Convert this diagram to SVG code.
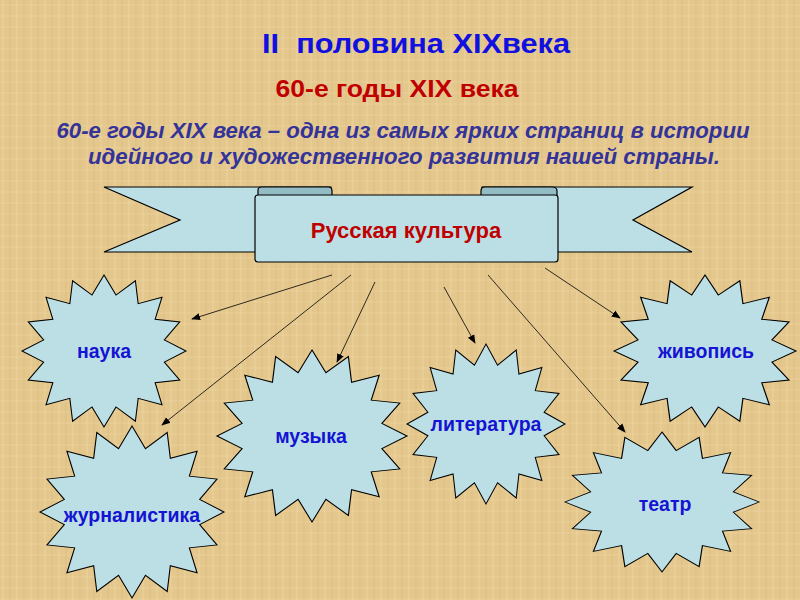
<svg xmlns="http://www.w3.org/2000/svg" width="800" height="600" viewBox="0 0 800 600">
<style>
.star{fill:#BCDFE5;stroke:#000;stroke-width:1}
.lbl{font-family:"Liberation Sans",Arial,sans-serif;font-weight:bold;font-size:19.5px;fill:#1414D2;text-anchor:middle}
.ribbon{fill:#BCDFE5;stroke:#000;stroke-width:1.2}
.fold{fill:#93BCC4;stroke:#000;stroke-width:1.2}
.conn line{stroke:#000;stroke-width:0.8;marker-end:url(#ah)}
.it{font-family:"Liberation Sans",Arial,sans-serif;font-size:22px;font-weight:bold;font-style:italic;fill:#333399;text-anchor:middle}
</style>
<defs>
<marker id="ah" viewBox="0 0 10 10" refX="9" refY="5" markerWidth="9" markerHeight="9" markerUnits="userSpaceOnUse" orient="auto">
<path d="M0,1 L10,5 L0,9 Z" fill="#000"/>
</marker>
<polygon id="s16" points="0,-100 14.63,-73.56 38.27,-92.39 41.67,-62.36 70.71,-70.71 62.36,-41.67 92.39,-38.27 73.56,-14.63 100,0 73.56,14.63 92.39,38.27 62.36,41.67 70.71,70.71 41.67,62.36 38.27,92.39 14.63,73.56 0,100 -14.63,73.56 -38.27,92.39 -41.67,62.36 -70.71,70.71 -62.36,41.67 -92.39,38.27 -73.56,14.63 -100,0 -73.56,-14.63 -92.39,-38.27 -62.36,-41.67 -70.71,-70.71 -41.67,-62.36 -38.27,-92.39 -14.63,-73.56"/>
<pattern id="tex" width="14" height="11" patternUnits="userSpaceOnUse">
<rect width="14" height="11" fill="#E4C78C"/>
<line x1="3" y1="0" x2="3" y2="11" stroke="#F0DCA8" stroke-width="1" opacity="0.6"/>
<line x1="10" y1="0" x2="10" y2="11" stroke="#D5B478" stroke-width="1" opacity="0.5"/>
<line x1="0" y1="5" x2="14" y2="5" stroke="#EED8A2" stroke-width="1" opacity="0.5"/>
</pattern>
</defs>
<rect width="800" height="600" fill="url(#tex)"/>

<text x="416" y="53" font-family="Liberation Sans,Arial,sans-serif" font-size="28" font-weight="bold" fill="#1010E0" text-anchor="middle" textLength="308" lengthAdjust="spacingAndGlyphs" xml:space="preserve">II  половина XIXвека</text>
<text x="397" y="97" font-family="Liberation Sans,Arial,sans-serif" font-size="24" font-weight="bold" fill="#C00000" text-anchor="middle" textLength="243" lengthAdjust="spacingAndGlyphs">60-е годы XIX века</text>
<text class="it" x="403" y="138" textLength="693" lengthAdjust="spacingAndGlyphs">60-е годы XIX века – одна из самых ярких страниц в истории</text>
<text class="it" x="404" y="164" textLength="632" lengthAdjust="spacingAndGlyphs">идейного и художественного развития нашей страны.</text>

<g id="banner">
<polygon class="ribbon" points="104,187 331,187 331,252 104,252 180,220"/>
<polygon class="ribbon" points="692,187 482,187 482,252 692,252 633,220"/>
<path class="fold" d="M258,196 L258,190 Q258,187 262,187 L328,187 Q332,187 332,191 L332,196 Z"/>
<path class="fold" d="M481,196 L481,191 Q481,187 485,187 L552,187 Q557,187 557,191 L557,196 Z"/>
<rect class="ribbon" x="255" y="195" width="303" height="67" rx="3"/>
<text x="406" y="238" font-family="Liberation Sans,Arial,sans-serif" font-size="22" font-weight="bold" fill="#C00000" text-anchor="middle">Русская культура</text>
</g>

<g id="connectors" class="conn">
<line x1="332" y1="275" x2="192" y2="319"/>
<line x1="351" y1="275" x2="162" y2="425"/>
<line x1="375" y1="282" x2="337" y2="362"/>
<line x1="444" y1="287" x2="475" y2="343"/>
<line x1="488" y1="275" x2="625" y2="432"/>
<line x1="545" y1="268" x2="620" y2="318"/>
</g>

<g id="nauka">
<use href="#s16" class="star" transform="translate(104,351) scale(0.82,0.76)" style="stroke-width:1.3"/>
<text class="lbl" x="104" y="358">наука</text>
</g>
<g id="zhivopis">
<use href="#s16" class="star" transform="translate(705,351) scale(0.91,0.76)" style="stroke-width:1.3"/>
<text class="lbl" x="706" y="358">живопись</text>
</g>
<g id="muzyka">
<use href="#s16" class="star" transform="translate(312,436) scale(0.95,0.86)" style="stroke-width:1.2"/>
<text class="lbl" x="311" y="443">музыка</text>
</g>
<g id="literatura">
<use href="#s16" class="star" transform="translate(486,424) scale(0.79,0.80)" style="stroke-width:1.3"/>
<text class="lbl" x="486" y="431">литература</text>
</g>
<g id="zhurnalistika">
<use href="#s16" class="star" transform="translate(132,512) scale(0.92,0.86)" style="stroke-width:1.2"/>
<text class="lbl" x="132" y="522">журналистика</text>
</g>
<g id="teatr">
<use href="#s16" class="star" transform="translate(662,502) scale(0.97,0.70)" style="stroke-width:1.2"/>
<text class="lbl" x="665" y="511">театр</text>
</g>
</svg>
